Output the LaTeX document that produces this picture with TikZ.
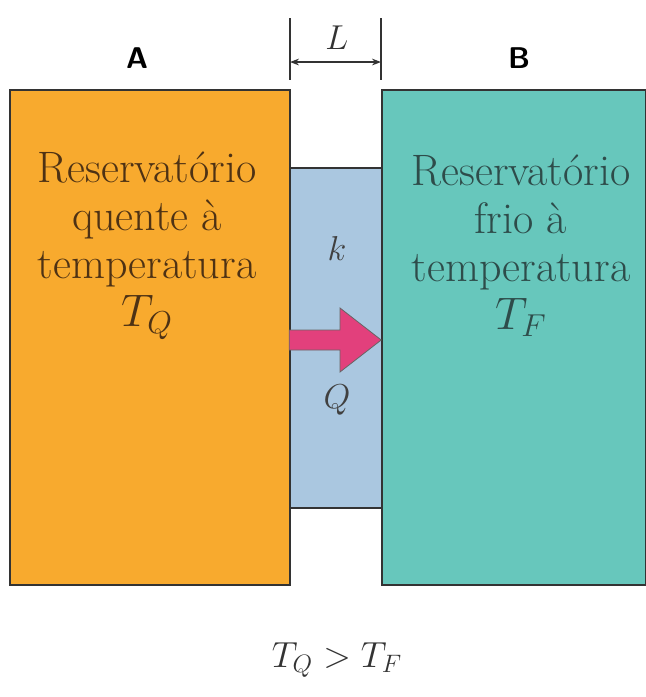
\documentclass[tikz,border=0pt]{standalone}
\usetikzlibrary{arrows.meta,calc}
\definecolor{quente}{HTML}{F8AA2E}
\definecolor{frio}{HTML}{67C7BC}
\definecolor{placa}{HTML}{AAC7E0}
\definecolor{fluxo}{HTML}{E2407C}
\definecolor{txtquente}{HTML}{4E3214}
\definecolor{txtfrio}{HTML}{2E4C4A}
\tikzset{
  reservatorio/.style={draw=black!80,line width=1.6pt,inner sep=0pt},
  rotulo/.style={font=\fontsize{20}{21.8}\selectfont,align=center,scale=2.2},
  simbolo/.style={font=\fontsize{17}{20}\selectfont,text=black!75,scale=2},
  letra/.style={font=\fontsize{30}{36}\selectfont\sffamily\bfseries}
}
\begin{document}
\begin{tikzpicture}[x=1pt,y=-1pt]
  \useasboundingbox (0,0) rectangle (646,697);
  % placa condutora entre os reservatorios
  \node[reservatorio,fill=placa,minimum width=92pt,minimum height=340pt] (slab) at (336,338) {};
  \node[reservatorio,fill=quente,minimum width=280pt,minimum height=495pt] (resA) at (150,337.5) {};
  \node[reservatorio,fill=frio,minimum width=264pt,minimum height=495pt] (resB) at (514,337.5) {};
  % textos
  \node[rotulo,text=txtquente] (txtA) at (147,246) {Reservatório\\quente à\\temperatura\\$T_Q$};
  \node[rotulo,text=txtfrio] (txtB) at (521,246) {Reservatório\\frio à\\temperatura\\$T_F$};
  \node[letra] (labA) at (137,58) {A};
  \node[letra] (labB) at (519,58) {B};
  \node[simbolo] (kk) at (337,248) {$k$};
  \node[simbolo] (qq) at (337,400) {$Q$};
  % fluxo de calor
  \draw[fill=fluxo,draw=black!60,line width=0.8pt]
    (slab.west |- 0,330) -- (340,330) -- (340,308) -- (resB.west |- 0,340)
    -- (340,372) -- (340,350) -- (slab.west |- 0,350) -- cycle;
  % cota L
  \coordinate (L1a) at (290,18);
  \coordinate (L1b) at (290,80);
  \coordinate (L2a) at (381,18);
  \coordinate (L2b) at (381,80);
  \draw[line width=1.6pt,black!80] (L1a) -- (L1b);
  \draw[line width=1.6pt,black!80] (L2a) -- (L2b);
  \draw[{Stealth[length=9pt]}-{Stealth[length=9pt]},line width=1.2pt,black!80]
    ($(L1a)!0.71!(L1b)$) -- ($(L2a)!0.71!(L2b)$);
  \node[simbolo,text=black!80] (LL) at (337,38) {$L$};
  \node[simbolo,text=black!80,scale=1.05] (cond) at (337,660) {$T_Q > T_F$};
\end{tikzpicture}
\end{document}
